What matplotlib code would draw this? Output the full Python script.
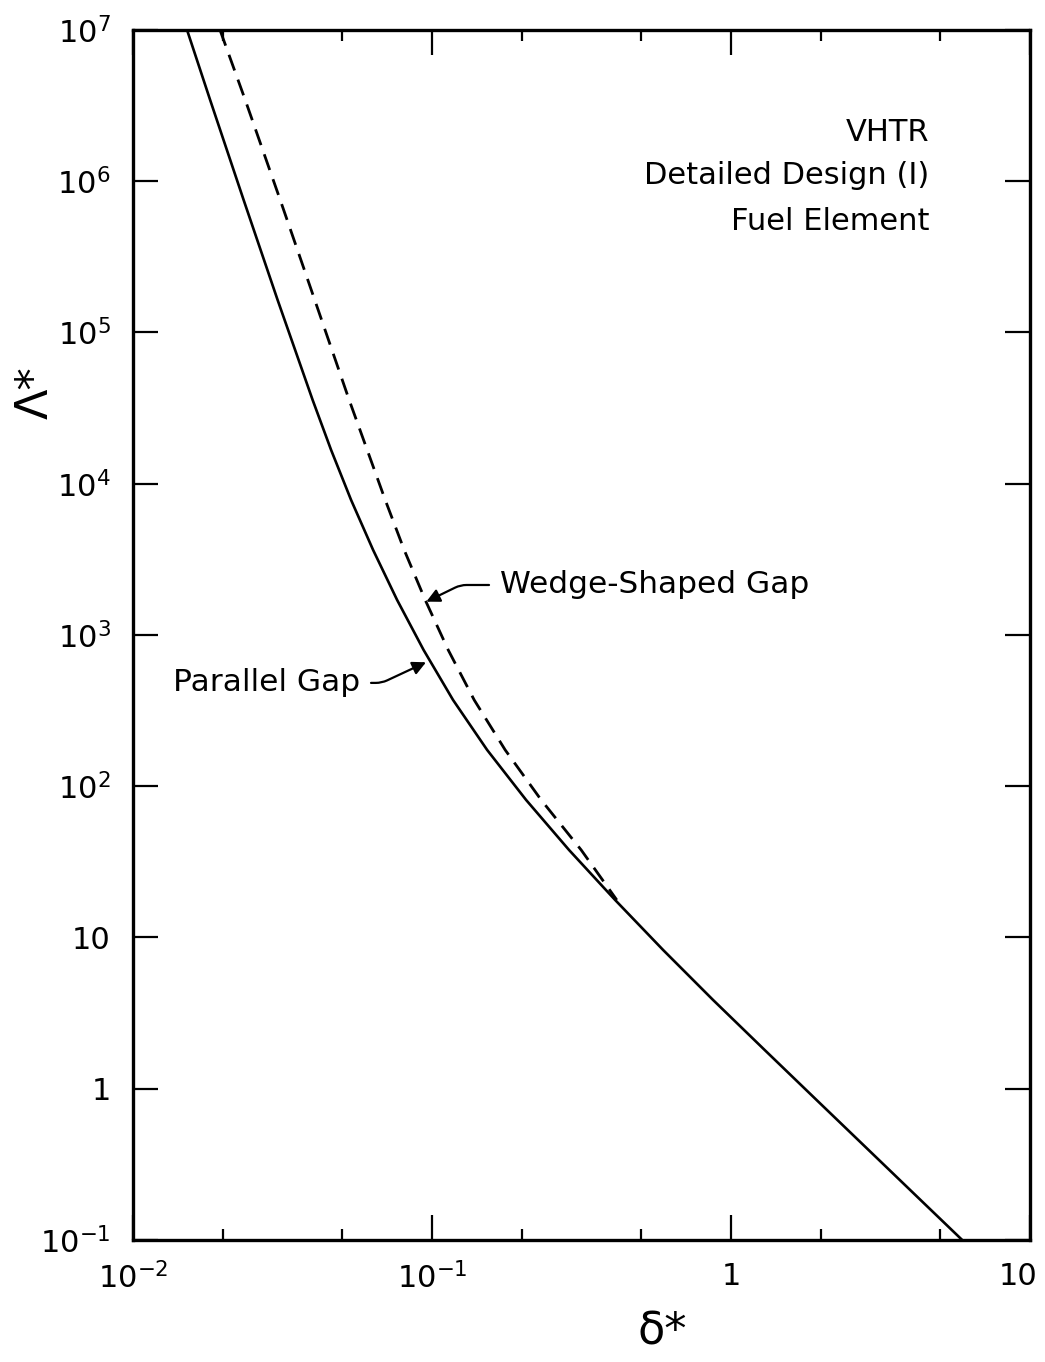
import matplotlib
matplotlib.use("Agg")
import matplotlib.pyplot as plt
import matplotlib.transforms as mtransforms
from matplotlib.ticker import LogLocator, NullLocator, NullFormatter

plt.rcParams['font.family'] = ['DejaVu Sans']
plt.rcParams['mathtext.default'] = 'regular'

# Parallel gap (solid curve)
parallel_delta = [0.01516, 0.01811, 0.02344, 0.03045, 0.03988, 0.04597, 0.05362,
                  0.06353, 0.07643, 0.09373, 0.1176, 0.1529, 0.2064, 0.2873,
                  0.4097, 0.5929, 0.8711, 1.296, 1.933, 2.885, 4.306, 5.933]
parallel_lambda = [1e7, 3.445e6, 7.516e5, 1.640e5, 3.578e4, 1.672e4, 7.808e3,
                   3.648e3, 1.704e3, 795.8, 371.7, 173.7, 81.14, 37.88,
                   17.70, 8.268, 3.862, 1.804, 0.8425, 0.3936, 0.1838, 0.1]

# Wedge-shaped gap (dashed curve)
wedge_delta = [0.01954, 0.02373, 0.03107, 0.04053, 0.05284, 0.06975, 0.08072,
               0.09490, 0.1133, 0.1384, 0.1757, 0.2318, 0.3155, 0.4150]
wedge_lambda = [1e7, 3.445e6, 7.516e5, 1.640e5, 3.578e4, 7.808e3, 3.648e3,
                1.704e3, 795.8, 371.7, 173.7, 81.14, 37.88, 17.70]

x_ticks = [1e-2, 1e-1, 1, 10]
x_labels = [r'$10^{-2}$', r'$10^{-1}$', '1', '10']
y_ticks = [1e-1, 1, 10, 1e2, 1e3, 1e4, 1e5, 1e6, 1e7]
y_labels = [r'$10^{-1}$', '1', '10', r'$10^{2}$', r'$10^{3}$', r'$10^{4}$',
            r'$10^{5}$', r'$10^{6}$', r'$10^{7}$']

fig = plt.figure(figsize=(10.45, 13.62), dpi=100)
ax = fig.add_axes([0.1273, 0.0896, 0.8583, 0.8884])

ax.plot(parallel_delta, parallel_lambda, color='black', lw=1.9)
ax.plot(wedge_delta, wedge_lambda, color='black', lw=2.0, dashes=(6, 3.5))

ax.set_xscale('log')
ax.set_yscale('log')
ax.set_xlim(1e-2, 10)
ax.set_ylim(1e-1, 1e7)

ax.set_xticks(x_ticks, x_labels)
ax.set_yticks(y_ticks, y_labels)
ax.xaxis.set_minor_locator(LogLocator(base=10, subs=(2, 5)))
ax.xaxis.set_minor_formatter(NullFormatter())
ax.yaxis.set_minor_locator(NullLocator())

ax.tick_params(which='major', direction='in', length=18, width=1.6,
               top=True, right=True, labelsize=22, pad=16)
ax.tick_params(which='minor', direction='in', length=8, width=1.6,
               top=True, right=False, left=False)
for s in ax.spines.values():
    s.set_linewidth(2.4)

# keep the last x label inside the figure
last = ax.get_xticklabels()[-1]
last.set_transform(last.get_transform() +
                   mtransforms.ScaledTranslation(-12 / 100, 0, fig.dpi_scale_trans))

ax.set_xlabel('δ*', fontsize=32)
ax.xaxis.set_label_coords(0.59, -0.058)
ax.set_ylabel('Λ*', fontsize=32)
ax.yaxis.set_label_coords(-0.085, 0.70)

ax.text(0.888, 0.915, 'VHTR', transform=ax.transAxes, ha='right',
        va='center', fontsize=22)
ax.text(0.888, 0.880, 'Detailed Design (I)', transform=ax.transAxes,
        ha='right', va='center', fontsize=22)
ax.text(0.888, 0.842, 'Fuel Element', transform=ax.transAxes, ha='right',
        va='center', fontsize=22)

ax.annotate('Wedge-Shaped Gap', xy=(0.0957, 1.66e3), xytext=(0.169, 2.14e3),
            fontsize=22.5, ha='left', va='center',
            arrowprops=dict(arrowstyle='-|>', color='black', lw=1.6,
                            mutation_scale=20, shrinkA=6, shrinkB=0,
                            relpos=(0, 0.5),
                            connectionstyle='angle,angleA=0,angleB=26,rad=6'))
ax.annotate('Parallel Gap', xy=(0.0955, 660), xytext=(0.0574, 482),
            fontsize=22.5, ha='right', va='center',
            arrowprops=dict(arrowstyle='-|>', color='black', lw=1.6,
                            mutation_scale=20, shrinkA=6, shrinkB=0,
                            relpos=(1, 0.5),
                            connectionstyle='angle,angleA=0,angleB=25,rad=6'))

plt.savefig('out.png', dpi=100)
